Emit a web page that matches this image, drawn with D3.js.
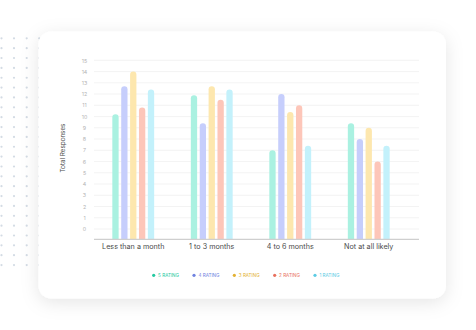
<!DOCTYPE html>
<html><head><meta charset="utf-8">
<script src="https://cdn.jsdelivr.net/npm/d3@7"></script>
<style>html,body{margin:0;padding:0;background:#fff;}svg{display:block;}</style>
</head><body>
<script>
const categories = ["Less than a month", "1 to 3 months", "4 to 6 months", "Not at all likely"];
const seriesNames = ["5 RATING", "4 RATING", "3 RATING", "2 RATING", "1 RATING"];
const rating5 = [10.2, 11.9, 7.0, 9.4];
const rating4 = [12.7, 9.4, 12.0, 8.0];
const rating3 = [14.0, 12.7, 10.4, 9.0];
const rating2 = [10.8, 11.5, 11.0, 6.0];
const rating1 = [12.4, 12.4, 7.4, 7.4];
const yTicks = [0,1,2,3,4,5,6,7,8,9,10,11,12,13,14,15];
const barColors = ["#aaf1e1", "#c6cefc", "#fde7ae", "#fdc6b9", "#c3f1fb"];
const legendColors = ["#22c9a0", "#6f82e0", "#e3b133", "#e8705e", "#5ccbe4"];
const seriesValues = [rating5, rating4, rating3, rating2, rating1];

const W = 476, H = 330;
const svg = d3.select("body").append("svg").attr("width", W).attr("height", H);
const defs = svg.append("defs");
const f = defs.append("filter").attr("id","sh").attr("x","-20%").attr("y","-20%").attr("width","140%").attr("height","150%");
f.append("feDropShadow").attr("dx",0).attr("dy",4).attr("stdDeviation",9).attr("flood-color","#000").attr("flood-opacity",0.10);

// dot grid
const dotXs = [1.5, 14, 26.7, 39.2];
const dotG = svg.append("g");
for (let r = 0; r < 24; r++) {
  dotXs.forEach(x => dotG.append("circle").attr("cx", x).attr("cy", 38.3 + r*9.86).attr("r", 1.1).attr("fill", "#d3dbe4"));
}

// card
svg.append("rect").attr("x",38.5).attr("y",31.5).attr("width",407.5).attr("height",267).attr("rx",13).attr("fill","#fff").attr("filter","url(#sh)");

const x0 = 94, x1 = 419;
const y = d3.scaleLinear().domain([0,15]).range([229, 60.3]);
const xb = d3.scaleBand().domain(categories).range([94, 408]).paddingInner(0).paddingOuter(0);
const xs = d3.scaleBand().domain(seriesNames).range([-23.5, 23.5]).padding(0.29);
const baseY = 239.3;

// gridlines
const g = svg.append("g");
g.selectAll("line.grid").data(yTicks).join("line")
  .attr("x1", x0).attr("x2", x1).attr("y1", d=>y(d)).attr("y2", d=>y(d))
  .attr("stroke", "#f0f0f0").attr("stroke-width", 0.8);

// y labels
const yAxis = d3.axisLeft(y).tickValues(yTicks).tickSize(0).tickPadding(0);
const ya = svg.append("g").attr("transform","translate(84.5,0)").call(yAxis);
ya.select(".domain").remove();
ya.selectAll("text").attr("font-family","Inter, 'Noto Sans', sans-serif").attr("font-size",5.3).attr("fill","#b3b3b3").attr("text-anchor","middle");

// bars
categories.forEach((c, ci) => {
  seriesValues.forEach((vals, si) => {
    const v = vals[ci];
    const cx = xb(c) + xb.bandwidth()/2 + xs(seriesNames[si]) + xs.bandwidth()/2;
    const bw = xs.bandwidth();
    const top = y(v);
    svg.append("path")
      .attr("d", `M${cx-bw/2},${baseY} L${cx-bw/2},${top+bw/2} A${bw/2},${bw/2} 0 0 1 ${cx+bw/2},${top+bw/2} L${cx+bw/2},${baseY} Z`)
      .attr("fill", barColors[si]);
  });
});

// baseline
svg.append("line").attr("x1",x0).attr("x2",x1).attr("y1",baseY).attr("y2",baseY).attr("stroke","#cfcfcf").attr("stroke-width",1.3);

// x labels
const xAxis = d3.axisBottom(xb).tickSize(0).tickPadding(0);
const xa = svg.append("g").attr("transform",`translate(0,${baseY+5})`).call(xAxis);
xa.select(".domain").remove();
xa.selectAll("text").attr("font-family","Inter, 'Noto Sans', sans-serif").attr("font-size",7.2).attr("fill","#4a4a4a").attr("dy","0.71em");

// y title
svg.append("text").attr("transform","translate(64.5,148) rotate(-90)").attr("text-anchor","middle")
  .attr("font-family","Inter, 'Noto Sans', sans-serif").attr("font-size",6.3).attr("fill","#4a4a4a").text("Total Responses");

// legend
const lx = d3.scalePoint().domain(seriesNames).range([153.7, 315]);
const lg = svg.append("g");
seriesNames.forEach((s, i) => {
  const xx = lx(s);
  lg.append("circle").attr("cx", xx).attr("cy", 275.3).attr("r", 1.6).attr("fill", legendColors[i]);
  lg.append("text").attr("x", xx+4.4).attr("y", 275.3).attr("dy","0.35em")
    .attr("font-family","Inter, 'Noto Sans', sans-serif").attr("font-size",4.6).attr("fill", legendColors[i]).text(s);
});
</script>
</body></html>
